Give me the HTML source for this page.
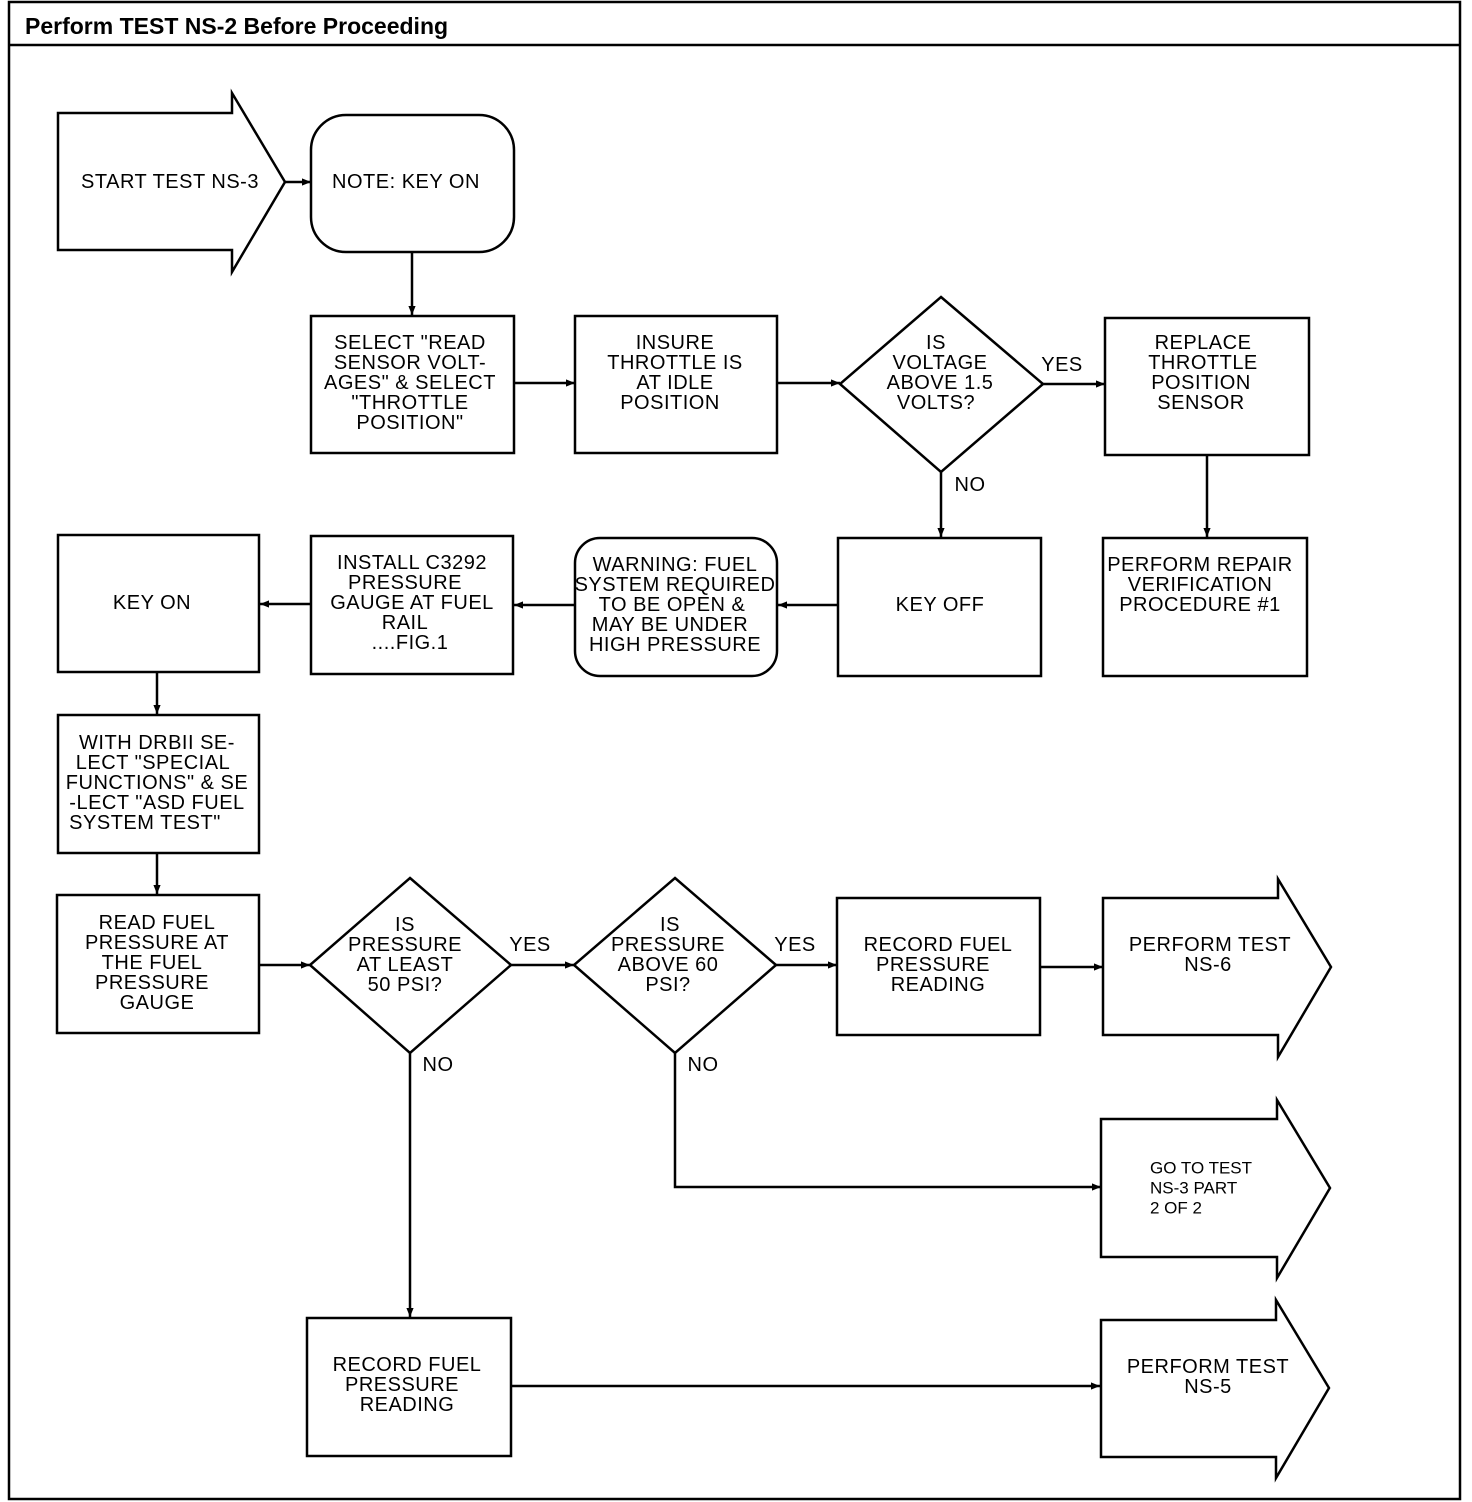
<!DOCTYPE html>
<html><head><meta charset="utf-8"><style>
html,body{margin:0;padding:0;background:#fff}
svg{display:block}
.t{font-family:"Liberation Sans",sans-serif;font-size:20px;text-anchor:middle;dominant-baseline:central;fill:#000;letter-spacing:0.5px}
.s{fill:none;stroke:#000;stroke-width:2.5}
</style></head><body>
<svg width="1472" height="1502" viewBox="0 0 1472 1502" xmlns="http://www.w3.org/2000/svg">
<defs><marker id="a" viewBox="0 0 10 10" refX="10" refY="5" markerWidth="9" markerHeight="9" markerUnits="userSpaceOnUse" orient="auto"><path d="M0,1 L10,5 L0,9 z" fill="#000"/></marker></defs>
<rect x="9" y="2" width="1451" height="1497" class="s" stroke-width="3"/>
<line x1="9" y1="45" x2="1460" y2="45" class="s" stroke-width="3"/>
<text x="25" y="26" style="font-family:'Liberation Sans',sans-serif;font-weight:bold;font-size:23px;dominant-baseline:central">Perform TEST NS-2 Before Proceeding</text>

<!-- start arrow -->
<path d="M58,113 H232 V93 L285,182 L232,272 V250 H58 Z" class="s"/>
<text class="t" x="170" y="182">START TEST NS-3</text>
<rect x="311" y="115" width="203" height="137" rx="35" class="s"/>
<text class="t" x="406" y="182">NOTE: KEY ON</text>
<line x1="285" y1="182" x2="311" y2="182" class="s" marker-end="url(#a)"/>
<line x1="412" y1="252" x2="412" y2="315" class="s" marker-end="url(#a)"/>

<rect x="311" y="316" width="203" height="137" class="s"/>
<text class="t" x="410" y="343">SELECT "READ</text><text class="t" x="410" y="363">SENSOR VOLT-</text><text class="t" x="410" y="383">AGES" &amp; SELECT</text><text class="t" x="410" y="403">"THROTTLE</text><text class="t" x="410" y="423">POSITION"</text>
<line x1="514" y1="383" x2="575" y2="383" class="s" marker-end="url(#a)"/>
<rect x="575" y="316" width="202" height="137" class="s"/>
<text class="t" x="675" y="343">INSURE</text><text class="t" x="675" y="363">THROTTLE IS</text><text class="t" x="675" y="383">AT IDLE</text><text class="t" x="670" y="403">POSITION</text>
<line x1="777" y1="383" x2="840" y2="383" class="s" marker-end="url(#a)"/>
<path d="M941,297 L1043,384 L941,472 L840,384 Z" class="s"/>
<text class="t" x="936" y="343">IS</text><text class="t" x="940" y="363">VOLTAGE</text><text class="t" x="940" y="383">ABOVE 1.5</text><text class="t" x="936" y="403">VOLTS?</text>
<line x1="1043" y1="384" x2="1105" y2="384" class="s" marker-end="url(#a)"/>
<text class="t" x="1062" y="365">YES</text>
<rect x="1105" y="318" width="204" height="137" class="s"/>
<text class="t" x="1203" y="343">REPLACE</text><text class="t" x="1203" y="363">THROTTLE</text><text class="t" x="1201" y="383">POSITION</text><text class="t" x="1201" y="403">SENSOR</text>
<line x1="1207" y1="455" x2="1207" y2="537" class="s" marker-end="url(#a)"/>
<rect x="1103" y="538" width="204" height="138" class="s"/>
<text class="t" x="1200" y="565">PERFORM REPAIR</text><text class="t" x="1200" y="585">VERIFICATION</text><text class="t" x="1200" y="605">PROCEDURE #1</text>
<line x1="941" y1="472" x2="941" y2="537" class="s" marker-end="url(#a)"/>
<text class="t" x="970" y="485">NO</text>
<rect x="838" y="538" width="203" height="138" class="s"/>
<text class="t" x="940" y="605">KEY OFF</text>
<line x1="838" y1="605" x2="778" y2="605" class="s" marker-end="url(#a)"/>
<rect x="575" y="538" width="202" height="138" rx="25" class="s"/>
<text class="t" x="675" y="565">WARNING: FUEL</text><text class="t" x="675" y="585">SYSTEM REQUIRED</text><text class="t" x="672" y="605">TO BE OPEN &amp;</text><text class="t" x="670" y="625">MAY BE UNDER</text><text class="t" x="675" y="645">HIGH PRESSURE</text>
<line x1="575" y1="605" x2="514" y2="605" class="s" marker-end="url(#a)"/>
<rect x="311" y="536" width="202" height="138" class="s"/>
<text class="t" x="412" y="563">INSTALL C3292</text><text class="t" x="405" y="583">PRESSURE</text><text class="t" x="412" y="603">GAUGE AT FUEL</text><text class="t" x="405" y="623">RAIL</text><text class="t" x="410" y="643">....FIG.1</text>
<line x1="311" y1="604" x2="260" y2="604" class="s" marker-end="url(#a)"/>
<rect x="58" y="535" width="201" height="137" class="s"/>
<text class="t" x="152" y="603">KEY ON</text>
<line x1="157" y1="672" x2="157" y2="714" class="s" marker-end="url(#a)"/>
<rect x="58" y="715" width="201" height="138" class="s"/>
<text class="t" x="157" y="743">WITH DRBII SE-</text><text class="t" x="153" y="763">LECT "SPECIAL</text><text class="t" x="157" y="783">FUNCTIONS" &amp; SE</text><text class="t" x="157" y="803">-LECT "ASD FUEL</text><text class="t" x="145" y="823">SYSTEM TEST"</text>
<line x1="157" y1="853" x2="157" y2="894" class="s" marker-end="url(#a)"/>
<rect x="57" y="895" width="202" height="138" class="s"/>
<text class="t" x="157" y="923">READ FUEL</text><text class="t" x="157" y="943">PRESSURE AT</text><text class="t" x="152" y="963">THE FUEL</text><text class="t" x="152" y="983">PRESSURE</text><text class="t" x="157" y="1003">GAUGE</text>
<line x1="259" y1="965" x2="310" y2="965" class="s" marker-end="url(#a)"/>
<path d="M410,878 L511,965 L410,1053 L310,965 Z" class="s"/>
<text class="t" x="405" y="925">IS</text><text class="t" x="405" y="945">PRESSURE</text><text class="t" x="405" y="965">AT LEAST</text><text class="t" x="405" y="985">50 PSI?</text>
<line x1="511" y1="965" x2="574" y2="965" class="s" marker-end="url(#a)"/>
<text class="t" x="530" y="945">YES</text>
<path d="M675,878 L776,965 L675,1053 L574,965 Z" class="s"/>
<text class="t" x="670" y="925">IS</text><text class="t" x="668" y="945">PRESSURE</text><text class="t" x="668" y="965">ABOVE 60</text><text class="t" x="668" y="985">PSI?</text>
<line x1="776" y1="965" x2="837" y2="965" class="s" marker-end="url(#a)"/>
<text class="t" x="795" y="945">YES</text>
<rect x="837" y="898" width="203" height="137" class="s"/>
<text class="t" x="938" y="945">RECORD FUEL</text><text class="t" x="933" y="965">PRESSURE</text><text class="t" x="938" y="985">READING</text>
<line x1="1040" y1="967" x2="1103" y2="967" class="s" marker-end="url(#a)"/>
<path d="M1103,898 H1278 V879 L1331,967 L1278,1057 V1035 H1103 Z" class="s"/>
<text class="t" x="1210" y="945">PERFORM TEST</text><text class="t" x="1208" y="965">NS-6</text>
<polyline points="675,1053 675,1187 1101,1187" class="s" marker-end="url(#a)"/>
<text class="t" x="703" y="1065">NO</text>
<path d="M1101,1119 H1277 V1100 L1330,1188 L1277,1278 V1257 H1101 Z" class="s"/>
<text x="1150" y="1168" style="font-family:'Liberation Sans',sans-serif;font-size:17px;dominant-baseline:central">GO TO TEST</text>
<text x="1150" y="1188" style="font-family:'Liberation Sans',sans-serif;font-size:17px;dominant-baseline:central">NS-3 PART</text>
<text x="1150" y="1208" style="font-family:'Liberation Sans',sans-serif;font-size:17px;dominant-baseline:central">2 OF 2</text>
<line x1="410" y1="1053" x2="410" y2="1317" class="s" marker-end="url(#a)"/>
<text class="t" x="438" y="1065">NO</text>
<rect x="307" y="1318" width="204" height="138" class="s"/>
<text class="t" x="407" y="1365">RECORD FUEL</text><text class="t" x="402" y="1385">PRESSURE</text><text class="t" x="407" y="1405">READING</text>
<line x1="511" y1="1386" x2="1100" y2="1386" class="s" marker-end="url(#a)"/>
<path d="M1101,1320 H1276 V1300 L1329,1388 L1276,1478 V1457 H1101 Z" class="s"/>
<text class="t" x="1208" y="1367">PERFORM TEST</text><text class="t" x="1208" y="1387">NS-5</text>
</svg>
</body></html>
